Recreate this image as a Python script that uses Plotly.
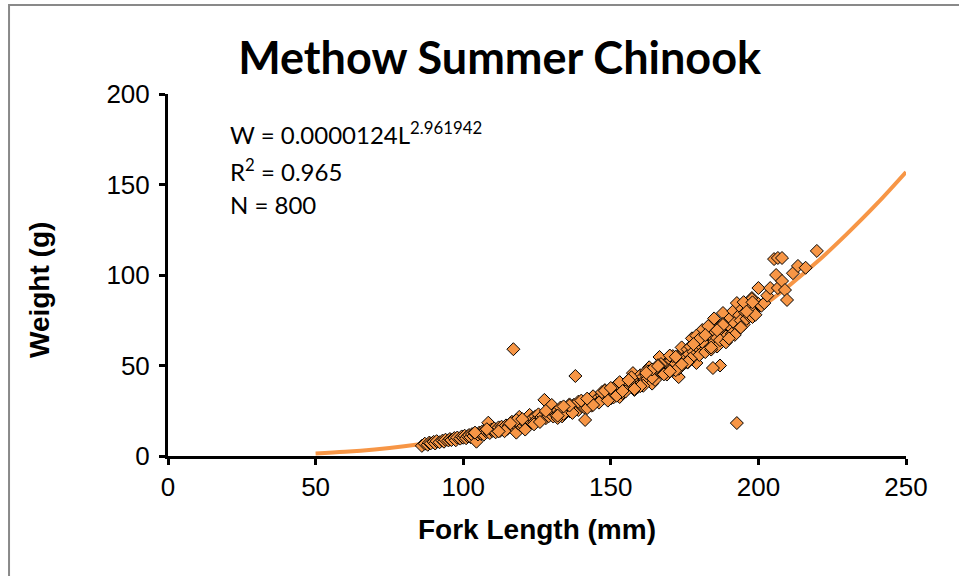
import plotly.graph_objects as go

trend_len = [50, 60, 70, 80, 90, 100, 110, 120, 130, 140, 150, 160, 170, 180, 190, 200, 210, 220, 230, 240, 250]
trend_wt = [1.33, 2.29, 3.61, 5.37, 7.6, 10.4, 13.8, 17.8, 22.6, 28.1, 34.6, 41.8, 50.0, 59.3, 69.6, 81.0, 93.6, 107.4, 122.7, 139.1, 156.9]

len_a = [86, 87, 88, 88.5, 89, 90, 90.5, 91, 92, 93, 93.5, 94, 95, 95.5, 96, 97, 97.5, 98, 99, 99.5]
wt_a = [5.6, 6.8, 6.2, 7.4, 7.0, 7.8, 6.9, 8.2, 7.6, 8.5, 7.9, 9.0, 8.6, 9.4, 8.8, 9.9, 8.7, 10.2, 9.6, 10.8]

len_b = [100, 100.5, 101, 101.5, 102, 102.5, 103, 103.5, 104, 104.5, 105, 105.5, 106, 106.5, 107, 107.5, 108, 108.5, 109, 109.5,
         110, 110.5, 111, 111.5, 112, 112.5, 113, 113.5, 114, 114.5]
wt_b = [10.1, 11.2, 9.8, 10.9, 11.6, 10.4, 12.1, 11.0, 12.6, 7.9, 11.9, 13.0, 12.3, 13.6, 11.8, 14.1, 13.2, 18.4, 12.7, 14.5,
        13.9, 15.2, 13.1, 14.6, 15.8, 13.9, 16.2, 14.8, 15.6, 16.9]

len_c = [115, 115.5, 116, 116.5, 117, 117, 117.5, 118, 118.5, 119, 119.5, 120, 120.5, 121, 121.5, 122, 122.5, 123, 123.5, 124,
         124.5, 125, 125.5, 126, 126.5, 127, 127.5, 128, 128.5, 129, 129.5, 130, 114, 118, 121]
wt_c = [15.1, 17.0, 16.4, 18.9, 15.3, 59.0, 17.6, 12.9, 18.2, 21.6, 16.8, 17.5, 19.4, 18.1, 20.2, 16.9, 22.7, 19.0, 20.8, 18.6,
        21.9, 20.3, 23.0, 19.7, 21.5, 22.4, 31.0, 20.9, 23.6, 22.0, 24.5, 28.2, 13.7, 19.8, 14.6]

len_d = [130.5, 131, 131.5, 132, 132.5, 133, 133.5, 134, 134.5, 135, 135.5, 136, 136.5, 137, 137.5, 138, 138, 138.5, 139, 139.5,
         140, 140.5, 141, 141.3, 141.5, 142, 142.5, 143, 143.5, 144, 144.5, 145, 132, 134, 136, 139, 142, 144, 133, 137]
wt_d = [21.8, 23.9, 22.5, 25.1, 23.2, 24.6, 21.9, 26.2, 24.0, 25.5, 27.0, 24.8, 26.6, 25.9, 28.3, 44.2, 26.0, 27.9, 25.4, 29.1,
        27.6, 28.8, 26.9, 19.9, 30.2, 28.4, 30.9, 29.3, 27.8, 31.5, 29.9, 31.0, 21.0, 23.3, 28.5, 30.0, 26.5, 33.0, 26.8, 23.8]

len_e = [145.5, 146, 146.5, 147, 147.5, 148, 148.5, 149, 149.5, 150, 150.5, 151, 151.5, 152, 152.5, 153, 153.5, 154, 154.5, 155,
         155.5, 156, 156.5, 157, 157.5, 158, 158.5, 159, 159.5, 160, 146, 148, 150, 152, 154, 156, 158, 160, 147, 151,
         155, 159, 149, 153, 157]
wt_e = [30.3, 32.5, 31.0, 33.6, 31.9, 34.8, 32.6, 33.9, 35.7, 34.2, 36.5, 34.9, 37.4, 35.8, 38.2, 32.6, 37.0, 39.1, 36.2, 38.5,
        40.4, 37.6, 39.7, 41.3, 45.8, 38.9, 41.8, 40.2, 43.0, 42.1, 29.5, 36.4, 31.8, 39.3, 34.8, 42.0, 36.5, 44.6, 35.3, 32.5,
        35.6, 37.9, 30.6, 40.8, 43.5]

len_f = [160.5, 161, 161.5, 162, 162.5, 163, 163.5, 164, 164.5, 165, 165.5, 166, 166.5, 167, 167.5, 168, 168.5, 169, 169.5, 170,
         170.5, 171, 171.5, 172, 172.5, 173, 173.5, 174, 174.5, 175, 161, 163, 165, 167, 169, 171, 173, 175, 162, 164,
         166, 168, 170, 172, 174]
wt_f = [40.6, 43.8, 41.9, 44.7, 42.6, 49.0, 43.9, 40.0, 46.2, 44.8, 47.5, 45.6, 54.7, 47.9, 46.1, 49.5, 47.3, 51.2, 48.6, 50.4,
        52.8, 49.1, 53.6, 51.0, 54.9, 43.6, 52.4, 56.1, 53.2, 57.6, 38.8, 46.8, 42.0, 50.8, 45.0, 55.2, 48.2, 51.5, 47.0, 43.2,
        50.2, 45.6, 55.5, 47.4, 60.0]

len_g = [175.5, 176, 176.5, 177, 177.5, 178, 178.5, 179, 179.5, 180, 180.5, 181, 181.5, 182, 182.5, 183, 183.5, 184, 184.5, 185,
         185.5, 186, 186.5, 187, 187.5, 188, 188.5, 189, 189.5, 190, 176, 178, 179, 180, 181, 182, 183, 184.6, 185, 186,
         187, 188, 189, 177, 184]
wt_g = [54.8, 58.9, 56.2, 60.5, 65.0, 57.6, 62.3, 51.4, 59.8, 63.5, 61.0, 69.6, 58.2, 64.8, 62.1, 67.0, 60.3, 66.4, 73.5, 63.0,
        68.5, 65.2, 71.0, 50.0, 67.8, 79.0, 70.4, 66.0, 74.2, 71.6, 51.6, 55.0, 66.5, 55.8, 63.0, 57.4, 71.8, 48.6, 76.0, 60.5,
        64.0, 73.0, 62.8, 53.8, 58.8]

len_h = [190.5, 191, 191.5, 192, 192.7, 192.7, 193, 193.5, 194, 194.5, 195, 195.5, 196, 196.5, 197, 197.8, 197.8, 198, 198.5, 199,
         200, 200, 201, 202, 203, 204, 205.3, 206, 206.6, 206.6, 208, 208, 209, 209.7, 211.7, 213.4, 216, 219.8, 191, 195]
wt_h = [76.2, 70.5, 80.1, 73.4, 84.5, 18.2, 69.6, 77.8, 74.9, 81.3, 72.6, 79.4, 75.8, 82.6, 77.2, 87.3, 86.7, 76.8, 80.5, 78.0,
        92.8, 84.0, 83.0, 84.5, 88.6, 92.8, 108.8, 100.0, 92.8, 109.4, 96.7, 109.4, 91.7, 86.2, 101.0, 105.0, 104.0, 113.3, 67.5, 85.0]

# extra fish filling the dense middle of the cloud
len_i = [104, 108, 112, 116, 120, 124, 128, 132, 136, 140, 144, 148, 152, 156, 160, 164, 168, 172, 176, 180,
         184, 188, 192, 196, 126, 134, 142, 150, 158, 166, 174, 182, 190, 198, 170, 178, 186, 194, 162, 154]
wt_i = [12.9, 14.8, 13.6, 18.0, 20.4, 17.5, 24.9, 22.3, 27.9, 30.6, 28.2, 36.0, 33.3, 41.9, 38.6, 47.8, 45.1, 54.8, 51.9, 64.6,
        59.9, 72.4, 66.9, 79.8, 18.8, 27.4, 31.7, 37.6, 37.0, 49.7, 50.6, 66.8, 65.0, 84.9, 46.8, 61.8, 69.5, 71.0, 45.9, 35.9]

fork_length = len_a + len_b + len_c + len_d + len_e + len_f + len_g + len_h + len_i
weight = wt_a + wt_b + wt_c + wt_d + wt_e + wt_f + wt_g + wt_h + wt_i

x_ticks = [0, 50, 100, 150, 200, 250]
y_ticks = [0, 50, 100, 150, 200]

ORANGE = "#F79646"

fig = go.Figure()
fig.add_trace(go.Scatter(
    x=trend_len, y=trend_wt, mode="lines",
    line=dict(color=ORANGE, width=4, shape="spline"),
    hoverinfo="skip", showlegend=False))
fig.add_trace(go.Scatter(
    x=fork_length, y=weight, mode="markers",
    marker=dict(symbol="diamond", size=10, color=ORANGE, line=dict(color="black", width=1)),
    showlegend=False))

axis_font = dict(family="Liberation Sans, Arial, sans-serif", size=26, color="black")
title_font = dict(family="Liberation Sans, Arial, sans-serif", size=28, color="black")

fig.update_layout(
    width=959, height=576,
    margin=dict(l=168, r=53, t=94, b=120),
    paper_bgcolor="white", plot_bgcolor="white",
    title=dict(text="<b>Methow Summer Chinook</b>", x=0.521, xref="container", xanchor="center",
               y=0.899, yref="container", yanchor="middle",
               font=dict(family="Lato, Carlito, sans-serif", size=45, color="black")),
    xaxis=dict(range=[0, 250], tickvals=x_ticks, ticktext=[str(v) for v in x_ticks],
               showgrid=False, zeroline=False, showline=True, linecolor="black", linewidth=3,
               ticks="outside", ticklen=6, tickwidth=3, tickcolor="black", tickfont=axis_font),
    yaxis=dict(range=[0, 200], tickvals=y_ticks, ticktext=[str(v) for v in y_ticks],
               showgrid=False, zeroline=False, showline=True, linecolor="black", linewidth=3,
               ticks="outside", ticklen=6, tickwidth=3, tickcolor="black", tickfont=axis_font,
               ticklabelstandoff=4),
)

# axis titles
fig.add_annotation(x=0.5, y=-0.2044, xref="paper", yref="paper", xanchor="center", yanchor="middle",
                   showarrow=False, text="<b>Fork Length (mm)</b>", font=title_font)
fig.add_annotation(x=-0.1734, y=0.4586, xref="paper", yref="paper", xanchor="center", yanchor="middle",
                   showarrow=False, text="<b>Weight (g)</b>", font=title_font, textangle=-90)

ann_font = dict(family="Lato, Carlito, sans-serif", size=24, color="black")
fig.add_annotation(x=20.3, y=178.5, xref="x", yref="y", xanchor="left", yanchor="middle", showarrow=False,
                   text="W = 0.0000124L<sup>2.961942</sup>", font=ann_font)
fig.add_annotation(x=20.3, y=158, xref="x", yref="y", xanchor="left", yanchor="middle", showarrow=False,
                   text="R<sup>2</sup> = 0.965", font=ann_font)
fig.add_annotation(x=20.3, y=139, xref="x", yref="y", xanchor="left", yanchor="middle", showarrow=False,
                   text="N = 800", font=ann_font)

# Chart-area border (extends past the right and bottom of the view)
fig.add_shape(type="rect", xref="paper", yref="paper",
              x0=-0.2154, x1=1.09, y0=-0.4, y1=1.2459,
              line=dict(color="#898989", width=2), fillcolor="rgba(0,0,0,0)", layer="below")

fig.write_html("out.html", config={"displayModeBar": False},
               post_script="document.body.style.margin='0';")
